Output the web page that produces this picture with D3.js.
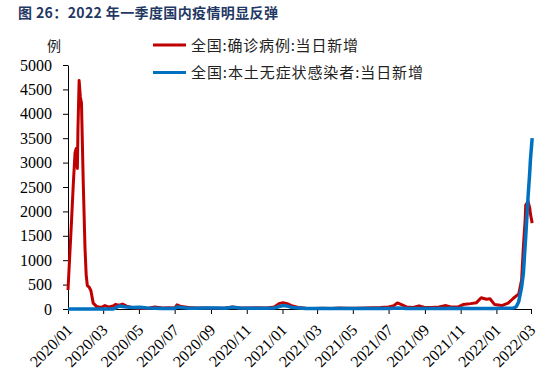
<!DOCTYPE html>
<html>
<head>
<meta charset="utf-8">
<script src="https://cdn.jsdelivr.net/npm/d3@7/dist/d3.min.js"></script>
<style>
  html, body { margin: 0; padding: 0; background: #fff; }
  svg { display: block; }
</style>
</head>
<body>
<svg id="chart" width="555" height="376"></svg>
<script>
const titleText = "图 26：2022 年一季度国内疫情明显反弹";
const unitLabel = "例";
const seriesNames = ["全国:确诊病例:当日新增", "全国:本土无症状感染者:当日新增"];
const seriesColors = ["#c00000", "#0070c0"];
const yTicks = [0, 500, 1000, 1500, 2000, 2500, 3000, 3500, 4000, 4500, 5000];
const xTickLabels = ["2020/01","2020/03","2020/05","2020/07","2020/09","2020/11","2021/01","2021/03","2021/05","2021/07","2021/09","2021/11","2022/01","2022/03"];

const dates = ["2020-01-01","2020-01-04","2020-01-07","2020-01-10","2020-01-13","2020-01-15","2020-01-17","2020-01-18","2020-01-20","2020-01-22","2020-01-24","2020-01-27","2020-01-30","2020-02-01","2020-02-03","2020-02-06","2020-02-09","2020-02-13","2020-02-19","2020-02-26","2020-03-04","2020-03-11","2020-03-18","2020-03-22","2020-03-28","2020-04-03","2020-04-10","2020-04-20","2020-05-03","2020-05-15","2020-05-28","2020-06-10","2020-06-22","2020-07-01","2020-07-05","2020-07-12","2020-07-25","2020-08-08","2020-08-25","2020-09-10","2020-09-25","2020-10-08","2020-10-20","2020-11-05","2020-11-20","2020-12-05","2020-12-18","2020-12-26","2021-01-02","2021-01-09","2021-01-18","2021-01-28","2021-02-10","2021-02-25","2021-03-10","2021-03-25","2021-04-08","2021-04-22","2021-05-06","2021-05-20","2021-06-03","2021-06-17","2021-07-01","2021-07-10","2021-07-16","2021-07-25","2021-08-01","2021-08-12","2021-08-22","2021-08-30","2021-09-12","2021-09-25","2021-10-07","2021-10-15","2021-10-28","2021-11-05","2021-11-18","2021-11-28","2021-12-06","2021-12-15","2021-12-21","2021-12-29","2022-01-10","2022-01-21","2022-01-30","2022-02-04","2022-02-08","2022-02-13","2022-02-16","2022-02-19","2022-02-20","2022-02-24","2022-02-27","2022-02-28","2022-03-03"];

const confirmed = [390,1100,1800,2550,3200,3290,2880,3700,4680,4350,4220,2600,1250,700,480,450,380,120,50,30,70,40,60,95,80,100,60,25,15,12,40,20,25,20,85,50,30,20,20,15,20,40,20,20,25,20,40,110,130,110,60,30,15,10,15,12,20,15,15,20,25,30,40,70,125,80,40,30,65,35,30,40,70,40,45,90,110,130,230,200,210,90,70,120,220,270,300,600,1280,1820,2130,2200,2060,1950,1760];

const asymptomatic = [0,0,0,0,0,0,0,0,0,0,0,0,0,0,0,0,0,0,0,0,0,0,0,20,60,50,40,30,35,20,15,10,10,10,40,30,15,15,20,20,15,35,20,15,15,15,20,50,70,60,30,20,10,10,10,10,10,10,10,10,10,10,10,15,20,15,10,10,10,10,10,10,10,15,10,15,10,10,10,10,10,10,15,15,20,50,150,450,730,1300,1480,2300,2830,3050,3500];

const parseDay = d3.timeParse("%Y-%m-%d");
const parseMonth = d3.timeParse("%Y/%m");
const svg = d3.select("#chart");

const x = d3.scaleTime()
  .domain([parseMonth(xTickLabels[0]), parseMonth(xTickLabels[xTickLabels.length - 1])])
  .range([68, 531]);
const y = d3.scaleLinear().domain([0, 5000]).range([309, 65]);

const serif = "'Liberation Serif', 'Times New Roman', serif";
const cjk = "'Noto Sans CJK SC', sans-serif";

// Title
svg.append("text")
  .attr("x", 18).attr("y", 18)
  .attr("font-family", cjk).attr("font-size", 14).attr("font-weight", "bold")
  .attr("fill", "#1f3864")
  .attr("textLength", 260).attr("lengthAdjust", "spacing")
  .text(titleText);

// Unit label
svg.append("text")
  .attr("x", 47).attr("y", 51)
  .attr("font-family", cjk).attr("font-size", 14)
  .attr("fill", "#222")
  .text(unitLabel);

// Y axis
const yAxis = svg.append("g")
  .attr("transform", "translate(68,0)")
  .call(d3.axisLeft(y).tickValues(yTicks).tickSize(5).tickSizeOuter(0).tickPadding(11).tickFormat(d3.format("d")));
yAxis.selectAll("text").attr("font-family", serif).attr("font-size", 16).attr("fill", "#000");
yAxis.selectAll("line, path").attr("stroke", "#000");

// X axis
const xAxis = svg.append("g")
  .attr("transform", "translate(0,309)")
  .call(d3.axisBottom(x).tickValues(xTickLabels.map(parseMonth)).tickSize(5).tickSizeOuter(0).tickFormat(d3.timeFormat("%Y/%m")));
xAxis.selectAll("line, path").attr("stroke", "#000");
xAxis.selectAll("text")
  .attr("font-family", serif).attr("font-size", 16).attr("fill", "#000")
  .attr("text-anchor", "end")
  .attr("dy", null).attr("y", null)
  .attr("transform", "translate(5,22) rotate(-45)");

// Lines
const rows = dates.map((d, i) => ({ date: parseDay(d), c: confirmed[i], a: asymptomatic[i] }));
const lineC = d3.line().x(d => x(d.date)).y(d => y(d.c));
const lineA = d3.line().x(d => x(d.date)).y(d => y(d.a));

svg.append("path").datum(rows).attr("d", lineC)
  .attr("fill", "none").attr("stroke", seriesColors[0]).attr("stroke-width", 3).attr("stroke-linejoin", "round");
svg.append("path").datum(rows).attr("d", lineA)
  .attr("fill", "none").attr("stroke", seriesColors[1]).attr("stroke-width", 3.5).attr("stroke-linejoin", "round");

// Legend
const legendY = [45, 72.5];
const legendW = [167, 232];
seriesNames.forEach((name, i) => {
  svg.append("line")
    .attr("x1", 153).attr("x2", 186).attr("y1", legendY[i]).attr("y2", legendY[i])
    .attr("stroke", seriesColors[i]).attr("stroke-width", 3);
  svg.append("text")
    .attr("x", 191).attr("y", legendY[i] + 5.5)
    .attr("font-family", cjk).attr("font-size", 15).attr("fill", "#222")
    .attr("textLength", legendW[i]).attr("lengthAdjust", "spacing")
    .text(name);
});
</script>
</body>
</html>
